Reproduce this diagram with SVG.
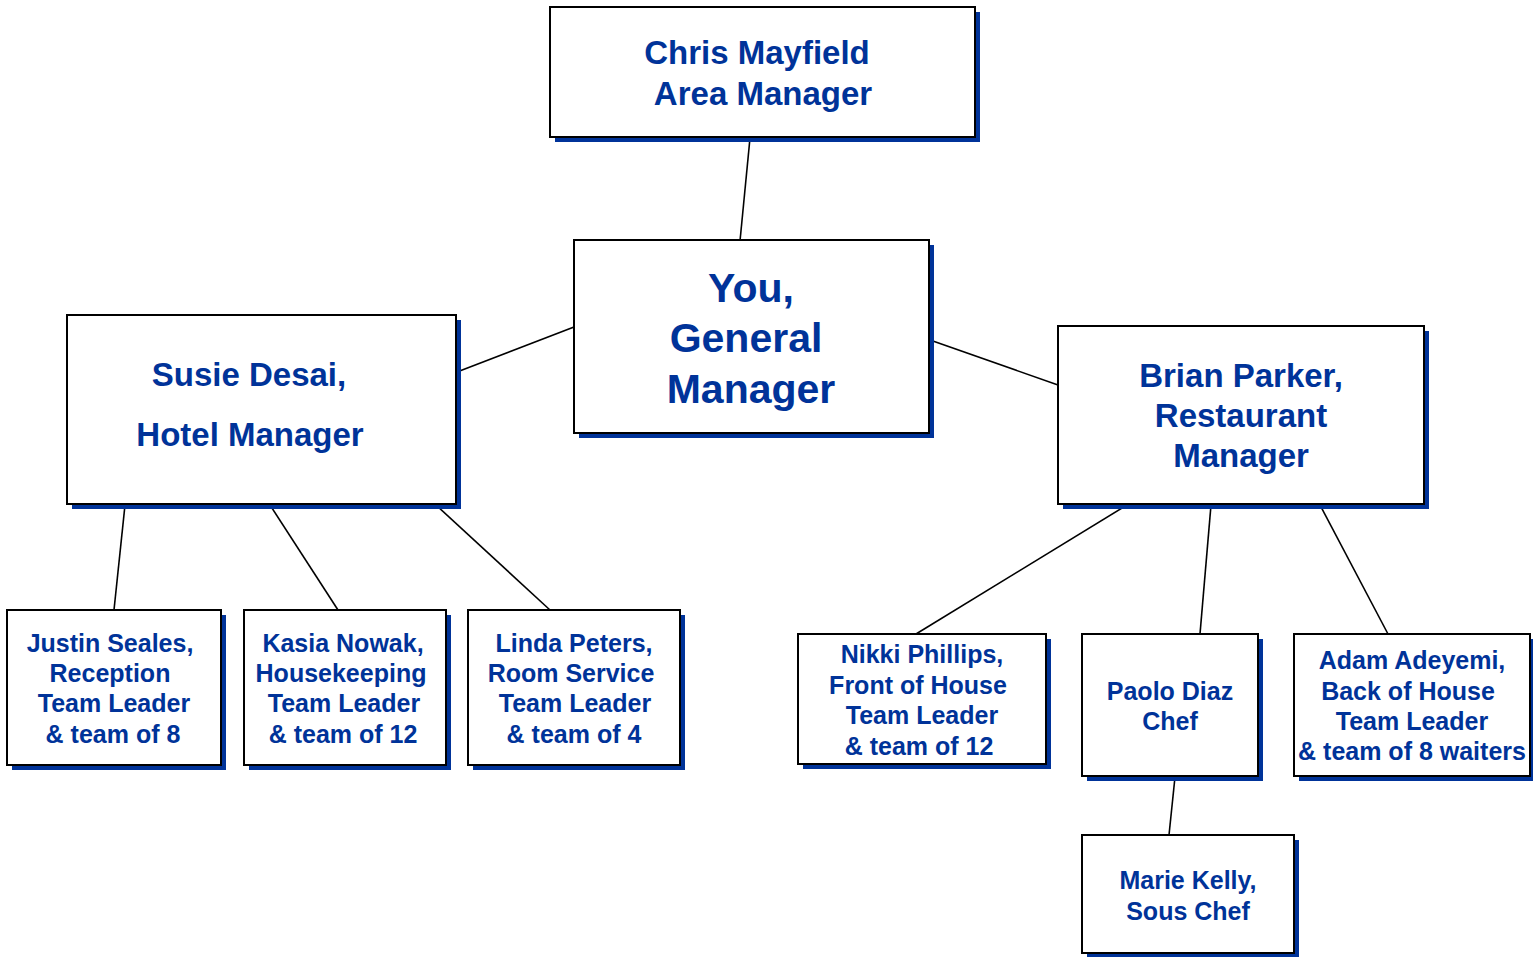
<svg xmlns="http://www.w3.org/2000/svg" width="1533" height="957" viewBox="0 0 1533 957">
<style>
.sh{fill:#003399}
.bx{fill:#fff;stroke:#000;stroke-width:2}
text{font-family:"Liberation Sans",Arial,sans-serif;font-weight:bold;fill:#003399;text-anchor:middle}
.l{font-size:33px}
.xl{font-size:41px}
.s{font-size:25px}
.c line{stroke:#000;stroke-width:1.6}
</style>
<rect width="1533" height="957" fill="#fff"/>
<g class="c" id="connectors">
<line x1="750" y1="138" x2="740" y2="241"/>
<line x1="457" y1="372" x2="574" y2="327"/>
<line x1="930" y1="340" x2="1058" y2="385"/>
<line x1="125" y1="505" x2="114" y2="610"/>
<line x1="270" y1="505" x2="338" y2="610"/>
<line x1="436" y1="505" x2="550" y2="610"/>
<line x1="1127" y1="505" x2="916" y2="634"/>
<line x1="1211" y1="505" x2="1200" y2="634"/>
<line x1="1320" y1="505" x2="1388" y2="634"/>
<line x1="1175" y1="777" x2="1169" y2="835"/>
</g>
<g id="chris">
<rect class="sh" x="555" y="12" width="425" height="130"/>
<rect class="bx" x="550" y="7" width="425" height="130"/>
<text class="l" x="757" y="64">Chris Mayfield</text>
<text class="l" x="763" y="105">Area Manager</text>
</g>
<g id="you">
<rect class="sh" x="579" y="245" width="355" height="193"/>
<rect class="bx" x="574" y="240" width="355" height="193"/>
<text class="xl" x="751" y="302">You,</text>
<text class="xl" x="746" y="352">General</text>
<text class="xl" x="751" y="403">Manager</text>
</g>
<g id="susie">
<rect class="sh" x="72" y="320" width="389" height="189"/>
<rect class="bx" x="67" y="315" width="389" height="189"/>
<text class="l" x="249" y="386">Susie Desai,</text>
<text class="l" x="250" y="446">Hotel Manager</text>
</g>
<g id="brian">
<rect class="sh" x="1063" y="331" width="366" height="178"/>
<rect class="bx" x="1058" y="326" width="366" height="178"/>
<text class="l" x="1241" y="387">Brian Parker,</text>
<text class="l" x="1241" y="427">Restaurant</text>
<text class="l" x="1241" y="467">Manager</text>
</g>
<g id="justin">
<rect class="sh" x="12" y="615" width="214" height="155"/>
<rect class="bx" x="7" y="610" width="214" height="155"/>
<text class="s" x="110" y="652">Justin Seales,</text>
<text class="s" x="110" y="682">Reception</text>
<text class="s" x="114" y="712">Team Leader</text>
<text class="s" x="113" y="743">&amp; team of 8</text>
</g>
<g id="kasia">
<rect class="sh" x="249" y="615" width="202" height="155"/>
<rect class="bx" x="244" y="610" width="202" height="155"/>
<text class="s" x="343" y="652">Kasia Nowak,</text>
<text class="s" x="341" y="682">Housekeeping</text>
<text class="s" x="344" y="712">Team Leader</text>
<text class="s" x="343" y="743">&amp; team of 12</text>
</g>
<g id="linda">
<rect class="sh" x="473" y="615" width="212" height="155"/>
<rect class="bx" x="468" y="610" width="212" height="155"/>
<text class="s" x="574" y="652">Linda Peters,</text>
<text class="s" x="571" y="682">Room Service</text>
<text class="s" x="575" y="712">Team Leader</text>
<text class="s" x="574" y="743">&amp; team of 4</text>
</g>
<g id="nikki">
<rect class="sh" x="803" y="639" width="248" height="130"/>
<rect class="bx" x="798" y="634" width="248" height="130"/>
<text class="s" x="922" y="663">Nikki Phillips,</text>
<text class="s" x="918" y="694">Front of House</text>
<text class="s" x="922" y="724">Team Leader</text>
<text class="s" x="919" y="755">&amp; team of 12</text>
</g>
<g id="paolo">
<rect class="sh" x="1087" y="639" width="176" height="142"/>
<rect class="bx" x="1082" y="634" width="176" height="142"/>
<text class="s" x="1170" y="700">Paolo Diaz</text>
<text class="s" x="1170" y="730">Chef</text>
</g>
<g id="adam">
<rect class="sh" x="1299" y="639" width="236" height="142"/>
<rect class="bx" x="1294" y="634" width="236" height="142"/>
<text class="s" x="1412" y="669">Adam Adeyemi,</text>
<text class="s" x="1408" y="700">Back of House</text>
<text class="s" x="1412" y="730">Team Leader</text>
<text class="s" x="1412" y="760">&amp; team of 8 waiters</text>
</g>
<g id="marie">
<rect class="sh" x="1087" y="840" width="212" height="118"/>
<rect class="bx" x="1082" y="835" width="212" height="118"/>
<text class="s" x="1188" y="889">Marie Kelly,</text>
<text class="s" x="1188" y="920">Sous Chef</text>
</g>
</svg>
